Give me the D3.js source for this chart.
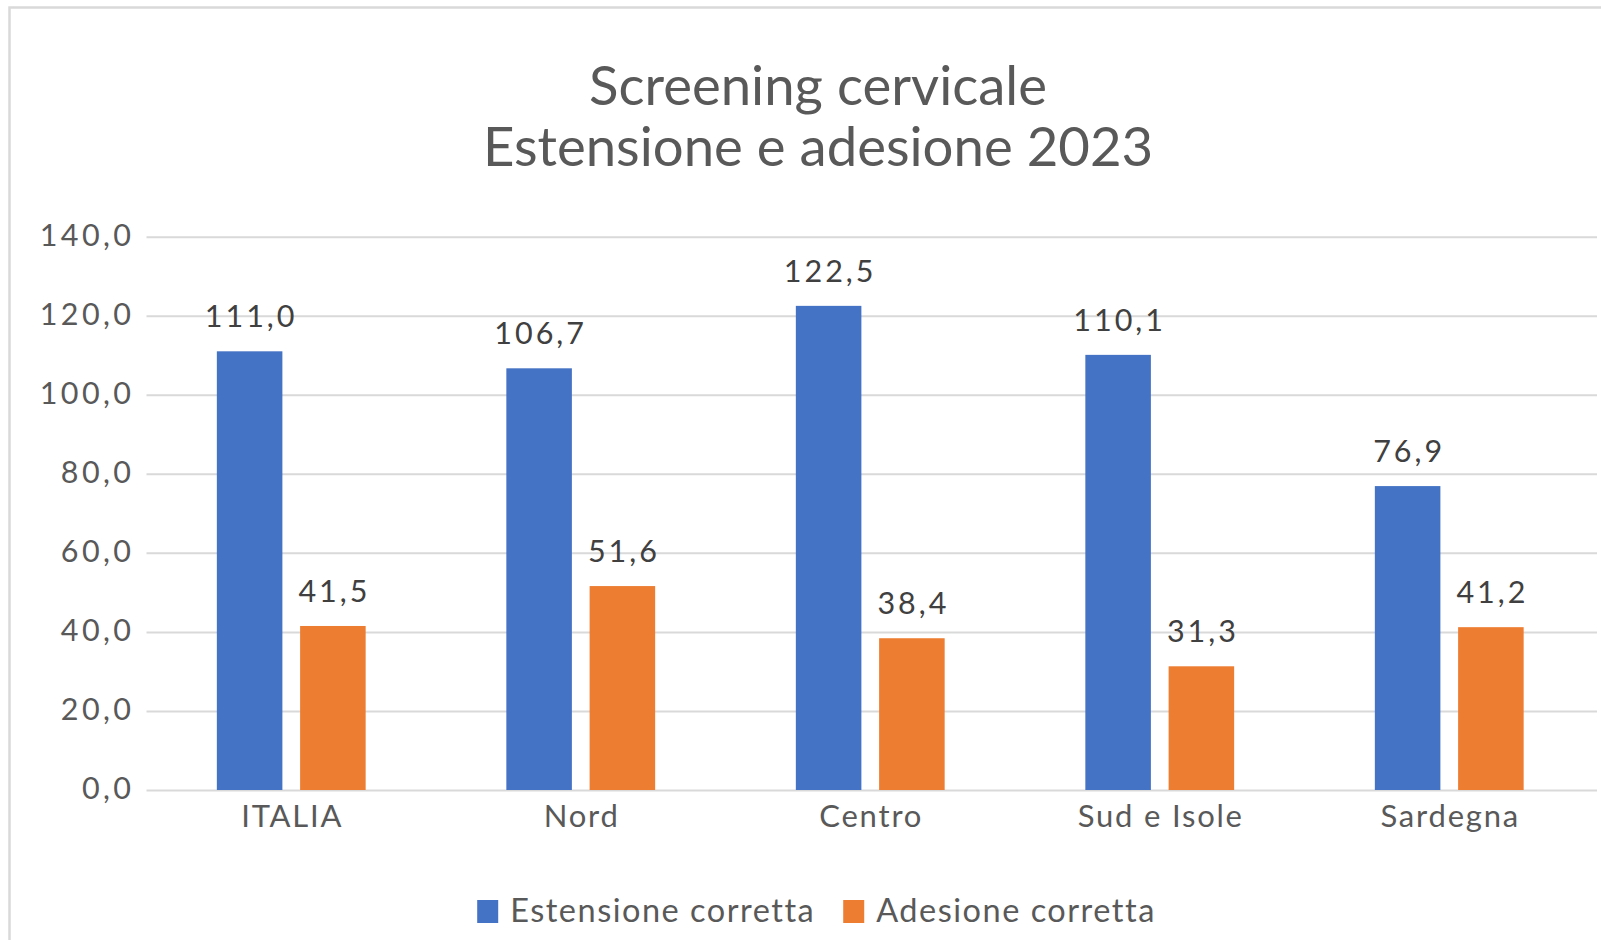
<!DOCTYPE html>
<html><head><meta charset="utf-8">
<script src="https://cdn.jsdelivr.net/npm/d3@7"></script>
<style>
body{margin:0;background:#fff;overflow:hidden}
text{font-family:Lato, "Open Sans", sans-serif}
</style>
</head><body>
<svg id="chart" width="1601" height="940"></svg>
<script>
// ---- data ----
const categories = ["ITALIA", "Nord", "Centro", "Sud e Isole", "Sardegna"];
const seriesNames = ["Estensione corretta", "Adesione corretta"];
const estensione = [111.0, 106.7, 122.5, 110.1, 76.9];
const adesione = [41.5, 51.6, 38.4, 31.3, 41.2];
const yTicks = [0, 20, 40, 60, 80, 100, 120, 140];
const titleLines = ["Screening cervicale", "Estensione e adesione 2023"];

// ---- styles ----
const colors = ["#4472C4", "#ED7D31"];
const textColor = "#595959";
const gridColor = "#d9d9d9";

const it = d3.formatLocale({decimal: ",", thousands: ".", grouping: [3], currency: ["", "€"]});
const fmt = it.format(".1f");

const svg = d3.select("#chart");
svg.append("rect").attr("width", 1601).attr("height", 940).attr("fill", "#fff");

// outer border (left + top visible)
svg.append("path")
  .attr("d", "M9.5,940 L9.5,7.5 L1601,7.5")
  .attr("fill", "none").attr("stroke", gridColor).attr("stroke-width", 2.5);

const plotLeft = 146.5, plotRight = 1594, gridRight = 1597;
const y = d3.scaleLinear().domain([0, 140]).range([790, 236.7]);

const x0 = d3.scaleBand().domain(categories).range([plotLeft, plotRight])
  .paddingInner(0.486).paddingOuter(0.243);
const x1 = d3.scaleBand().domain(seriesNames).range([0, x0.bandwidth()])
  .paddingInner(0.213).paddingOuter(0);

// title
svg.append("text")
  .attr("x", 818).attr("y", 105)
  .attr("text-anchor", "middle").attr("fill", textColor)
  .attr("font-size", 54.5)
  .selectAll("tspan").data(titleLines).join("tspan")
  .attr("x", 818).attr("dy", (d, i) => i === 0 ? 0 : 61)
  .text(d => d);

// gridlines + y tick labels
const yAxis = d3.axisLeft(y).tickValues(yTicks)
  .tickSize(-(gridRight - plotLeft)).tickPadding(15.5)
  .tickFormat(d => fmt(d));
const gAxis = svg.append("g").attr("transform", `translate(${plotLeft},0)`).call(yAxis);
gAxis.select(".domain").remove();
gAxis.selectAll(".tick line").attr("stroke", gridColor).attr("stroke-width", 2);
gAxis.selectAll(".tick text")
  .attr("fill", textColor).attr("font-size", 30.5).attr("letter-spacing", 3.4)
  .attr("font-family", "Lato").attr("dy", 8.5).attr("dx", 3.4);

// bars
const rows = categories.map((c, i) => ({cat: c, vals: [estensione[i], adesione[i]]}));
const groups = svg.append("g").selectAll("g").data(rows).join("g")
  .attr("transform", d => `translate(${x0(d.cat)},0)`);
groups.selectAll("rect").data(d => d.vals.map((v, j) => ({s: seriesNames[j], v, j})))
  .join("rect")
  .attr("x", d => x1(d.s)).attr("width", x1.bandwidth())
  .attr("y", d => y(d.v)).attr("height", d => y(0) - y(d.v))
  .attr("fill", d => colors[d.j]);

// data labels
groups.selectAll("text").data(d => d.vals.map((v, j) => ({s: seriesNames[j], v, j})))
  .join("text")
  .attr("x", d => x1(d.s) + x1.bandwidth() / 2 + 1.5)
  .attr("y", d => y(d.v) - 24)
  .attr("text-anchor", "middle").attr("fill", "#404040")
  .attr("font-size", 30.5).attr("letter-spacing", 3)
  .text(d => fmt(d.v));

// category labels
const xAxis = d3.axisBottom(x0).tickSize(0).tickPadding(0);
const gx = svg.append("g").attr("transform", `translate(0,${y(0)})`).call(xAxis);
gx.select(".domain").remove();
gx.selectAll(".tick text")
  .attr("fill", textColor).attr("font-size", 31).attr("letter-spacing", 1.8)
  .attr("font-family", "Lato").attr("dy", 37).attr("y", 0).attr("dx", 1);

// legend
const legend = svg.append("g");
const items = legend.selectAll("g").data(seriesNames).join("g");
items.append("rect").attr("width", 21).attr("height", 23).attr("y", 900)
  .attr("fill", (d, i) => colors[i]);
items.append("text").attr("x", 33).attr("y", 922)
  .attr("fill", textColor).attr("font-size", 32.5).attr("letter-spacing", 1.5)
  .text(d => d);
const widths = [];
items.each(function() { widths.push(this.querySelector("text").getComputedTextLength()); });
const gap = 28;
const total = widths.reduce((a, w) => a + 33 + w, 0) + gap;
let start = 816.5 - total / 2;
items.attr("transform", (d, i) => {
  const t = `translate(${start},0)`;
  start += 33 + widths[i] + gap;
  return t;
});
</script>
</body></html>
